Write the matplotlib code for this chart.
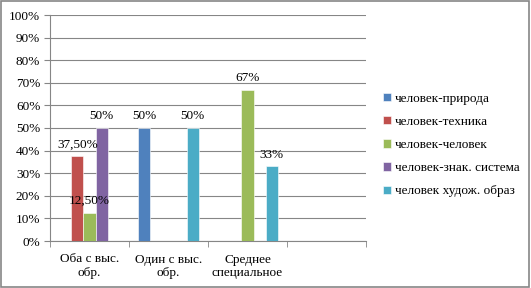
import matplotlib
matplotlib.use("Agg")
import matplotlib.pyplot as plt
import numpy as np
from matplotlib.patches import Rectangle

categories = ["Оба с выс.\nобр.", "Один с выс.\nобр.", "Среднее\nспециальное", ""]
series_names = ["человек-природа", "человек-техника", "человек-человек",
                "человек-знак. система", "человек худож. образ"]
values = {
    "человек-природа":       [0, 50, 0, 0],
    "человек-техника":       [37.5, 0, 0, 0],
    "человек-человек":       [12.5, 0, 67, 0],
    "человек-знак. система": [50, 0, 0, 0],
    "человек худож. образ":  [0, 50, 33, 0],
}
labels = {
    "человек-природа":       ["", "50%", "", ""],
    "человек-техника":       ["37,50%", "", "", ""],
    "человек-человек":       ["12,50%", "", "67%", ""],
    "человек-знак. система": ["50%", "", "", ""],
    "человек худож. образ":  ["", "50%", "33%", ""],
}
colors = ["#4F81BD", "#C0504D", "#9BBB59", "#8064A2", "#4BACC6"]
yticks = [0, 10, 20, 30, 40, 50, 60, 70, 80, 90, 100]

plt.rcParams['font.family'] = ['Liberation Serif', 'DejaVu Serif']

fig = plt.figure(figsize=(5.31, 2.88), dpi=100)
ax = fig.add_axes([50/531, 1-241/288, (366-50)/531, (241-15)/288])

x = np.arange(len(categories))
w = 0.152
n = len(series_names)
for i, name in enumerate(series_names):
    vals = values[name]
    pos = x + (i - (n-1)/2) * w
    ax.bar(pos, vals, width=w, color=colors[i], label=name, zorder=3,
           edgecolor='white', linewidth=0.4)
    for p, v, lab in zip(pos, vals, labels[name]):
        if lab:
            ax.text(p, v + 2.5, lab, ha='center', va='bottom', fontsize=9.5, zorder=4)

ax.set_xlim(-0.5, len(categories) - 0.5)
ax.set_ylim(0, 100)
ax.set_yticks(yticks)
ax.set_yticklabels([f"{t}%" for t in yticks], fontsize=9.5)
ax.set_xticks(x)
ax.set_xticklabels(categories, fontsize=9.5)
ax.set_xticks(np.arange(len(categories) + 1) - 0.5, minor=True)
ax.tick_params(axis='x', which='major', length=0, pad=9)
ax.tick_params(axis='x', which='minor', length=4, color='#868686', direction='out')
ax.tick_params(axis='y', length=4, color='#868686', direction='out', pad=3)
ax.yaxis.grid(True, color='#868686', linewidth=0.8, zorder=0)
for s in ['top', 'right']:
    ax.spines[s].set_visible(False)
for s in ['left', 'bottom']:
    ax.spines[s].set_color('#868686')
    ax.spines[s].set_linewidth(0.8)

leg = ax.legend(loc='center left', bbox_to_anchor=(378/531, 1-145/288),
                bbox_transform=fig.transFigure, frameon=False, fontsize=9.5,
                handlelength=0.6, handleheight=0.6, handletextpad=0.3,
                labelspacing=0.85, borderaxespad=0)

fig.patches.append(Rectangle((0.002, 0.003), 0.995, 0.993, transform=fig.transFigure,
                             fill=False, edgecolor='#868686', linewidth=1.2))

fig.savefig("out.png", dpi=100)
